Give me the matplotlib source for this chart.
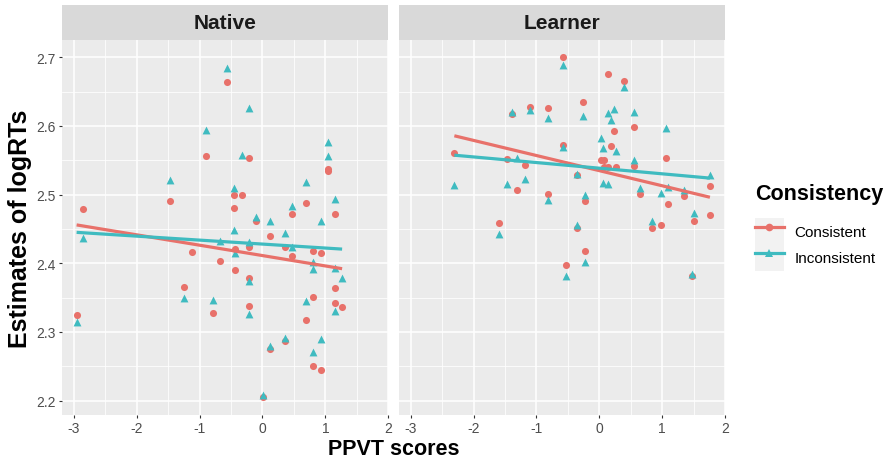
import numpy as np
import matplotlib
matplotlib.use("Agg")
import matplotlib.pyplot as plt
from matplotlib.lines import Line2D
from matplotlib.patches import Rectangle
from matplotlib.legend_handler import HandlerTuple
from matplotlib.ticker import MultipleLocator

plt.rcParams['font.family'] = ['Liberation Sans', 'DejaVu Sans']

panels = ["Native", "Learner"]
groups = ["Consistent", "Inconsistent"]

native_cons_x = [-2.953, -2.85, -1.465, -1.244, -1.123, -0.896, -0.791, -0.669, -0.563, -0.448,
                 -0.326, -0.448, -0.437, -0.437, -0.215, -0.105, -0.215, -0.215, -0.215, 0.01,
                 0.122, 0.122, 0.354, 0.354, 0.47, 0.47, 0.70, 0.70, 0.807, 0.807,
                 0.807, 0.924, 0.924, 1.04, 1.04, 1.15, 1.15, 1.15, 1.266]
native_cons_y = [2.325, 2.479, 2.491, 2.366, 2.417, 2.556, 2.328, 2.403, 2.664, 2.499,
                 2.499, 2.480, 2.421, 2.390, 2.554, 2.461, 2.424, 2.378, 2.338, 2.205,
                 2.440, 2.275, 2.423, 2.287, 2.472, 2.410, 2.488, 2.317, 2.418, 2.351,
                 2.251, 2.415, 2.245, 2.537, 2.534, 2.472, 2.364, 2.342, 2.337]
native_inc_x = [-2.953, -2.85, -1.465, -1.244, -0.896, -0.791, -0.669, -0.563, -0.448, -0.448,
                -0.437, -0.332, -0.215, -0.215, -0.215, -0.215, -0.105, 0.01, 0.122, 0.122,
                0.354, 0.354, 0.47, 0.47, 0.70, 0.70, 0.807, 0.807, 0.807, 0.924,
                0.924, 1.04, 1.04, 1.15, 1.146, 1.266, 1.15]
native_inc_y = [2.314, 2.437, 2.521, 2.350, 2.594, 2.347, 2.433, 2.684, 2.509, 2.448,
                2.415, 2.558, 2.626, 2.431, 2.374, 2.326, 2.467, 2.208, 2.461, 2.279,
                2.444, 2.291, 2.484, 2.424, 2.518, 2.345, 2.402, 2.392, 2.271, 2.461,
                2.289, 2.577, 2.556, 2.494, 2.393, 2.379, 2.330]

learner_cons_x = [-2.306, -1.596, -1.474, -1.395, -1.305, -1.185, -1.10, -0.81, -0.81, -0.578,
                  -0.578, -0.531, -0.357, -0.357, -0.262, -0.231, -0.231, 0.022, 0.074, 0.074,
                  0.142, 0.142, 0.185, 0.232, 0.269, 0.395, 0.553, 0.553, 0.643, 0.843,
                  0.975, 1.065, 1.09, 1.343, 1.469, 1.512, 1.76, 1.76]
learner_cons_y = [2.561, 2.459, 2.552, 2.618, 2.506, 2.543, 2.627, 2.626, 2.501, 2.701,
                  2.572, 2.398, 2.528, 2.452, 2.635, 2.491, 2.418, 2.551, 2.551, 2.540,
                  2.676, 2.540, 2.571, 2.593, 2.540, 2.665, 2.598, 2.542, 2.501, 2.452,
                  2.455, 2.554, 2.487, 2.498, 2.381, 2.461, 2.512, 2.470]
learner_inc_x = [-2.306, -1.596, -1.474, -1.395, -1.305, -1.185, -1.10, -0.81, -0.81, -0.578,
                 -0.578, -0.531, -0.357, -0.357, -0.262, -0.231, -0.231, 0.022, 0.063, 0.063,
                 0.142, 0.142, 0.185, 0.232, 0.269, 0.395, 0.553, 0.553, 0.643, 0.843,
                 0.975, 1.065, 1.09, 1.343, 1.469, 1.512, 1.76]
learner_inc_y = [2.514, 2.443, 2.516, 2.620, 2.553, 2.523, 2.623, 2.611, 2.492, 2.689,
                 2.570, 2.381, 2.530, 2.456, 2.614, 2.500, 2.402, 2.582, 2.568, 2.517,
                 2.619, 2.515, 2.608, 2.624, 2.564, 2.657, 2.621, 2.551, 2.509, 2.462,
                 2.502, 2.597, 2.511, 2.507, 2.385, 2.473, 2.529]

x_ticks = [-3, -2, -1, 0, 1, 2]
y_ticks = [2.2, 2.3, 2.4, 2.5, 2.6, 2.7]

data = {
    "Native": {"Consistent": (native_cons_x, native_cons_y),
               "Inconsistent": (native_inc_x, native_inc_y)},
    "Learner": {"Consistent": (learner_cons_x, learner_cons_y),
                "Inconsistent": (learner_inc_x, learner_inc_y)},
}

colors = {"Consistent": "#E8716A", "Inconsistent": "#3FBBC0"}
markers = {"Consistent": "o", "Inconsistent": "^"}
msize = {"Consistent": 26, "Inconsistent": 32}

W, H = 889, 460
fig = plt.figure(figsize=(W / 100, H / 100), dpi=100)

panel_px = [(61.7, 388.3), (398.8, 725.0)]
top_px, bot_px = 40.7, 416.0
strip_top = 6.0

for (l, r), name in zip(panel_px, panels):
    ax = fig.add_axes([l / W, 1 - bot_px / H, (r - l) / W, (bot_px - top_px) / H])
    ax.set_facecolor("#EBEBEB")
    for s in ax.spines.values():
        s.set_visible(False)
    ax.set_xlim(-3.19, 2.0)
    ax.set_ylim(2.179, 2.7256)
    ax.xaxis.set_major_locator(MultipleLocator(1))
    ax.xaxis.set_minor_locator(MultipleLocator(0.5))
    ax.yaxis.set_major_locator(MultipleLocator(0.1))
    ax.yaxis.set_minor_locator(MultipleLocator(0.05))
    ax.set_xticks(x_ticks)
    ax.set_xticklabels([str(t) for t in x_ticks])
    ax.set_yticks(y_ticks)
    if name == "Native":
        ax.set_yticklabels([f"{t:.1f}" for t in y_ticks])
    else:
        ax.set_yticklabels([])
    ax.grid(which="major", color="white", lw=1.1)
    ax.grid(which="minor", color="white", lw=0.55)
    ax.set_axisbelow(True)
    ax.tick_params(which="major", length=2.5, width=0.8, color="#333333",
                   labelsize=10, labelcolor="#4D4D4D", pad=2)
    ax.tick_params(which="minor", length=0)
    if name == "Learner":
        ax.tick_params(axis="y", length=0)

    for g in groups:
        xs, ys = data[name][g]
        xs = np.asarray(xs); ys = np.asarray(ys)
        ax.scatter(xs, ys, s=msize[g], marker=markers[g], color=colors[g],
                   linewidths=0, zorder=3)
        k, b = np.polyfit(xs, ys, 1)
        xx = np.array([xs.min(), xs.max()])
        ax.plot(xx, k * xx + b, color=colors[g], lw=2.3, zorder=4,
                solid_capstyle="butt")

    sax = fig.add_axes([l / W, 1 - top_px / H, (r - l) / W, (top_px - strip_top) / H])
    sax.set_facecolor("#D9D9D9")
    sax.set_xticks([]); sax.set_yticks([])
    for s in sax.spines.values():
        s.set_visible(False)
    sax.text(0.5, 0.5, name, ha="center", va="center", fontsize=15,
             fontweight="bold", color="#1A1A1A", transform=sax.transAxes)

fig.text((61.7 + 725) / 2 / W, 1 - 450 / H, "PPVT scores", ha="center", va="center",
         fontsize=15.5, fontweight="bold")
fig.text(20 / W, 1 - (top_px + bot_px) / 2 / H, "Estimates of logRTs", ha="center",
         va="center", rotation=90, fontsize=18, fontweight="bold")

handles = []
for g in groups:
    bg = Rectangle((0, 0), 1, 1, facecolor="#F2F2F2", edgecolor="none")
    ln = Line2D([], [], color=colors[g], lw=2.3, marker=markers[g], markersize=5.5,
                markeredgewidth=0)
    handles.append((bg, ln))
leg = fig.legend(handles, groups, handler_map={tuple: HandlerTuple(ndivide=1, pad=0)},
                 loc="center left", bbox_to_anchor=(744 / W, 1 - 228 / H),
                 frameon=False, fontsize=11, title="Consistency",
                 title_fontproperties={"weight": "bold", "size": 15.5},
                 handlelength=1.9, handleheight=2.3, labelspacing=0,
                 handletextpad=0.7, borderpad=0.2)
leg._legend_box.align = "left"
leg._legend_box.sep = 10

fig.savefig("out.png", dpi=100)
